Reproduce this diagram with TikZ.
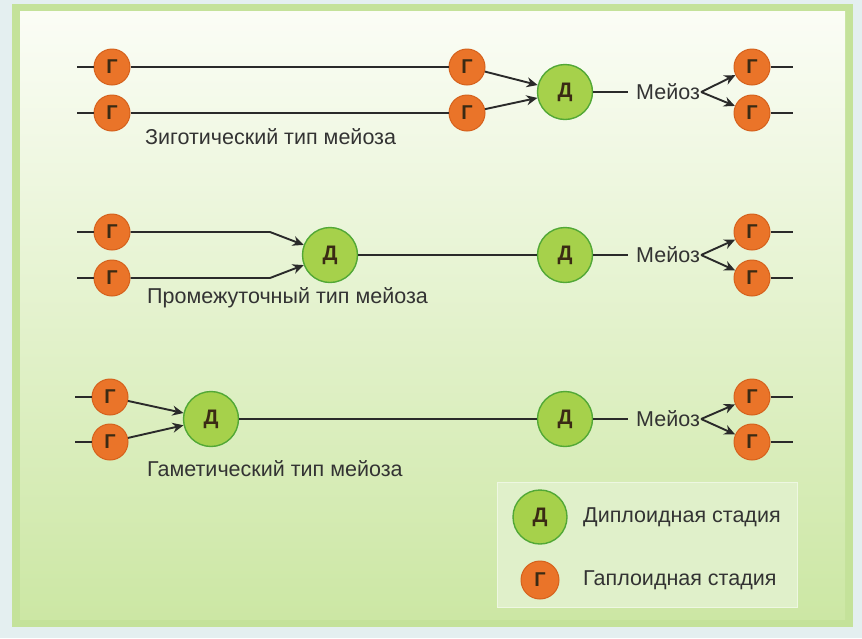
\documentclass[tikz,border=0pt]{standalone}
\usepackage{fontspec}
\setmainfont{Liberation Sans}
\usetikzlibrary{arrows.meta}

\definecolor{bgout}{HTML}{E4EFF0}
\definecolor{framec}{HTML}{C4E29A}
\definecolor{paneltop}{HTML}{FBFDF6}
\definecolor{panelbot}{HTML}{CCE7A4}
\definecolor{legfill}{HTML}{E0F0CA}
\definecolor{legline}{HTML}{EEF7E2}
\definecolor{hapfill}{HTML}{EA7429}
\definecolor{hapline}{HTML}{D5611C}
\definecolor{dipfill}{HTML}{A6D14B}
\definecolor{dipline}{HTML}{52A836}
\definecolor{letter}{HTML}{3A2A14}
\definecolor{wirec}{HTML}{2A2A2A}
\definecolor{textc}{HTML}{333333}

\begin{document}
\begin{tikzpicture}[x=1pt,y=-1pt,
  hap/.style={circle,draw=hapline,fill=hapfill,line width=1pt,minimum size=36pt,
    inner sep=0pt,font=\fontsize{20}{20}\selectfont\bfseries,text=letter},
  dip/.style={circle,draw=dipline,fill=dipfill,line width=1.4pt,minimum size=55pt,
    inner sep=0pt,font=\fontsize{21}{21}\selectfont\bfseries,text=letter},
  wire/.style={line width=1.9pt,draw=wirec},
  arr/.style={wire,-{Stealth[length=11pt,width=10pt]}},
  lbl/.style={font=\fontsize{21.5}{21.5}\selectfont,text=textc,anchor=west,inner sep=0pt}
]
\useasboundingbox (0,0) rectangle (862,638);

% background, frame and panel
\fill[bgout] (0,0) rectangle (862,638);
\fill[framec] (12,4) rectangle (853,627);
\shade[top color=paneltop,bottom color=panelbot] (20,11) rectangle (845,619);

% ---- zygotic meiosis ----
\node[hap] (z1) at (112,67) {Г};
\node[hap] (z2) at (112,113) {Г};
\node[hap] (z3) at (467,67) {Г};
\node[hap] (z4) at (467,113) {Г};
\node[dip] (zd) at (565,92) {Д};
\node[lbl] (zm) at (636,92) {Мейоз};
\node[hap] (zr1) at (752,67) {Г};
\node[hap] (zr2) at (752,113) {Г};
\coordinate (z1w) at (77,67);
\coordinate (z2w) at (77,113);
\coordinate (zr1e) at (793,67);
\coordinate (zr2e) at (793,113);
\draw[wire] (z1w) -- (z1) (z1) -- (z3);
\draw[wire] (z2w) -- (z2) (z2) -- (z4);
\draw[arr] (z3) -- (zd);
\draw[arr] (z4) -- (zd);
\draw[wire] (zd) -- ([xshift=-8pt]zm.west);
\draw[arr] ([xshift=1pt]zm.east) -- (zr1);
\draw[arr] ([xshift=1pt]zm.east) -- (zr2);
\draw[wire] (zr1) -- (zr1e);
\draw[wire] (zr2) -- (zr2e);
\node[lbl] (zl) at (145,137) {Зиготический тип мейоза};

% ---- intermediate meiosis ----
\node[hap] (p1) at (112,232) {Г};
\node[hap] (p2) at (112,278) {Г};
\node[dip] (pd1) at (330,255) {Д};
\node[dip] (pd2) at (565,255) {Д};
\node[lbl] (pm) at (636,255) {Мейоз};
\node[hap] (pr1) at (752,232) {Г};
\node[hap] (pr2) at (752,278) {Г};
\coordinate (p1w) at (77,232);
\coordinate (p2w) at (77,278);
\coordinate (p1b) at (270,232);
\coordinate (p2b) at (270,278);
\coordinate (pr1e) at (793,232);
\coordinate (pr2e) at (793,278);
\draw[wire] (p1w) -- (p1);
\draw[wire] (p2w) -- (p2);
\draw[arr] (p1) -- (p1b) -- (pd1);
\draw[arr] (p2) -- (p2b) -- (pd1);
\draw[wire] (pd1) -- (pd2);
\draw[wire] (pd2) -- ([xshift=-8pt]pm.west);
\draw[arr] ([xshift=1pt]pm.east) -- (pr1);
\draw[arr] ([xshift=1pt]pm.east) -- (pr2);
\draw[wire] (pr1) -- (pr1e);
\draw[wire] (pr2) -- (pr2e);
\node[lbl] (pl) at (147,298) {Промежуточный тип мейоза};

% ---- gametic meiosis ----
\node[hap] (g1) at (110,397) {Г};
\node[hap] (g2) at (110,442) {Г};
\node[dip] (gd1) at (211,419) {Д};
\node[dip] (gd2) at (565,419) {Д};
\node[lbl] (gm) at (636,419) {Мейоз};
\node[hap] (gr1) at (752,397) {Г};
\node[hap] (gr2) at (752,442) {Г};
\coordinate (g1w) at (75,397);
\coordinate (g2w) at (75,442);
\coordinate (gr1e) at (793,397);
\coordinate (gr2e) at (793,442);
\draw[wire] (g1w) -- (g1);
\draw[wire] (g2w) -- (g2);
\draw[arr] (g1) -- (gd1);
\draw[arr] (g2) -- (gd1);
\draw[wire] (gd1) -- (gd2);
\draw[wire] (gd2) -- ([xshift=-8pt]gm.west);
\draw[arr] ([xshift=1pt]gm.east) -- (gr1);
\draw[arr] ([xshift=1pt]gm.east) -- (gr2);
\draw[wire] (gr1) -- (gr1e);
\draw[wire] (gr2) -- (gr2e);
\node[lbl] (gl) at (147,469) {Гаметический тип мейоза};

% ---- legend ----
\draw[fill=legfill,draw=legline,line width=1pt] (497,482) rectangle (797,607);
\node[dip,minimum size=54pt] (ld) at (540,517) {Д};
\node[hap,minimum size=38pt] (lh) at (540,580) {Г};
\node[lbl] (ldt) at (583,517) {Диплоидная стадия};
\node[lbl] (lht) at (583,580) {Гаплоидная стадия};
\end{tikzpicture}
\end{document}
